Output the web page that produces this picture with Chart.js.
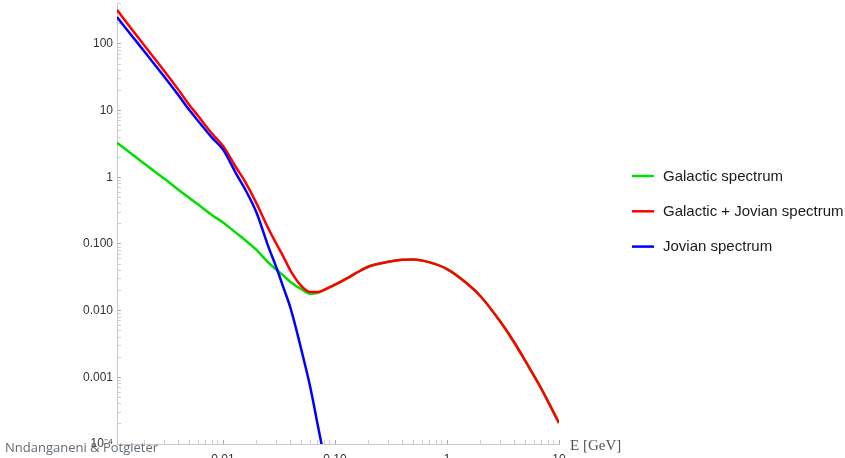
<!DOCTYPE html>
<html>
<head>
<meta charset="utf-8">
<script src="https://cdn.jsdelivr.net/npm/chart.js@4.4.0/dist/chart.umd.min.js"></script>
<style>
  html, body { margin: 0; padding: 0; background: #ffffff; }
  #wrap { position: relative; width: 845px; height: 458px; overflow: hidden; }
  #c { position: absolute; left: 0; top: 0; }
  #credit { position: absolute; left: 5px; top: 438px; font: 13px "Open Sans", "Noto Sans", sans-serif; line-height: 18px; color: #5f6b77; white-space: nowrap; }
  #xtitle { position: absolute; left: 570px; top: 435px; font: 15px "Liberation Serif", "DejaVu Serif", serif; line-height: 20px; color: #555555; white-space: nowrap; }
</style>
</head>
<body>
<div id="wrap">
  <canvas id="c" width="845" height="458"></canvas>
  <div id="xtitle">E [GeV]</div>
  <div id="credit">Nndanganeni &amp; Potgieter</div>
</div>
<script>
// ---- data ----
const energy   = [0.00113, 0.0015, 0.002, 0.003, 0.004, 0.005, 0.006, 0.008, 0.01, 0.013, 0.016, 0.02, 0.025, 0.03, 0.035, 0.04, 0.05, 0.06, 0.07, 0.08, 0.1, 0.13, 0.16, 0.2, 0.3, 0.4, 0.5, 0.7, 1, 1.5, 2, 3, 4, 5, 7, 10];
const galactic = [3.3, 2.3, 1.58, 0.95, 0.65, 0.49, 0.39, 0.27, 0.21, 0.148, 0.112, 0.081, 0.054, 0.041, 0.033, 0.027, 0.021, 0.018, 0.0185, 0.0205, 0.0245, 0.031, 0.038, 0.046, 0.054, 0.058, 0.0585, 0.053, 0.042, 0.0257, 0.0163, 0.0068, 0.0033, 0.00176, 0.00066, 0.000207];
const total    = [325, 174, 93, 39, 20.5, 12.2, 8.3, 4.5, 2.95, 1.43, 0.82, 0.40, 0.18, 0.10, 0.062, 0.040, 0.0235, 0.019, 0.019, 0.0205, 0.0245, 0.031, 0.038, 0.046, 0.054, 0.058, 0.0585, 0.053, 0.042, 0.0257, 0.0163, 0.0068, 0.0033, 0.00176, 0.00066, 0.000207];
const jovian   = [253, 139, 76, 32, 17, 10.2, 7, 3.9, 2.6, 1.16, 0.63, 0.29, 0.098, 0.044, 0.021, 0.011, 0.0026, 0.00072, 0.000195, 0.000063];
const seriesNames  = ['Galactic spectrum', 'Galactic + Jovian spectrum', 'Jovian spectrum'];
const seriesColors = ['#00e000', '#ff0000', '#0000ff'];
const xTickValues = [0.01, 0.1, 1, 10];
const xTickLabels = ['0.01', '0.10', '1', '10'];
const yTickValues = [1e-4, 1e-3, 1e-2, 1e-1, 1, 10, 100];
const yTickLabels = ['10\u207B\u2074', '0.001', '0.010', '0.100', '1', '10', '100'];

function pts(vals) {
  return vals.map((v, i) => ({ x: energy[i], y: v }));
}
function logTicks(min, max) {
  const t = [];
  for (let e = -5; e <= 3; e++) {
    for (let m = 1; m <= 9; m++) {
      const v = m * Math.pow(10, e);
      if (v >= min * 0.9999 && v <= max * 1.0001) t.push({ value: v, major: m === 1 });
    }
  }
  return t;
}
function labelFor(v, vals, labels) {
  for (let i = 0; i < vals.length; i++) if (Math.abs(v / vals[i] - 1) < 1e-6) return labels[i];
  return '';
}

const tickFont = { family: '"Liberation Sans", Arial, sans-serif', size: 12 };
const gridOpts = {
  drawOnChartArea: false, drawTicks: true, tickLength: -4, tickWidth: 1,
  tickColor: (c) => (c.tick && c.tick.major) ? '#a8a8a8' : '#d0d0d0'
};

const sideLegend = {
  id: 'sideLegend',
  afterDraw(chart) {
    const ctx = chart.ctx;
    ctx.save();
    chart.data.datasets.forEach((ds, i) => {
      const y = 176 + i * 35.3;
      ctx.strokeStyle = ds.borderColor;
      ctx.lineWidth = 2.5;
      ctx.beginPath();
      ctx.moveTo(632, y);
      ctx.lineTo(654, y);
      ctx.stroke();
      ctx.fillStyle = '#1a1a1a';
      ctx.font = '15px "Liberation Sans", Arial, sans-serif';
      ctx.textBaseline = 'middle';
      ctx.textAlign = 'left';
      ctx.fillText(ds.label, 663, y + 0.5);
    });
    ctx.restore();
  }
};

const seriesData = [galactic, total, jovian];
new Chart(document.getElementById('c'), {
  type: 'line',
  data: {
    datasets: seriesData.map((vals, i) => ({
      label: seriesNames[i],
      data: pts(vals),
      borderColor: seriesColors[i],
      backgroundColor: seriesColors[i],
      borderWidth: 2.5,
      pointRadius: 0,
      fill: false,
      cubicInterpolationMode: 'monotone',
      order: 3 - i
    }))
  },
  options: {
    responsive: false,
    devicePixelRatio: 1,
    animation: false,
    layout: { padding: { top: 3, right: 286, bottom: 0, left: 0 } },
    plugins: { legend: { display: false }, tooltip: { enabled: false } },
    scales: {
      x: {
        type: 'logarithmic', position: 'bottom', min: 0.00113, max: 10,
        afterBuildTicks: (s) => { s.ticks = logTicks(s.min, s.max); },
        afterFit: (s) => { s.height = 14; s.paddingLeft = 0; s.paddingRight = 0; },
        ticks: { autoSkip: false, maxRotation: 0, minRotation: 0, padding: 12, color: '#333', font: tickFont,
                 callback: (v) => labelFor(v, xTickValues, xTickLabels) },
        grid: gridOpts,
        border: { color: '#c8c8c8', width: 1 }
      },
      y: {
        type: 'logarithmic', position: 'left', min: 1e-4, max: 412,
        afterBuildTicks: (s) => { s.ticks = logTicks(s.min, s.max); },
        afterFit: (s) => { s.width = 117; s.paddingTop = 0; s.paddingBottom = 0; },
        ticks: { autoSkip: false, padding: 8, color: '#333', font: tickFont,
                 callback: (v) => labelFor(v, yTickValues, yTickLabels) },
        grid: gridOpts,
        border: { color: '#c8c8c8', width: 1 }
      }
    }
  },
  plugins: [sideLegend]
});
</script>
</body>
</html>
